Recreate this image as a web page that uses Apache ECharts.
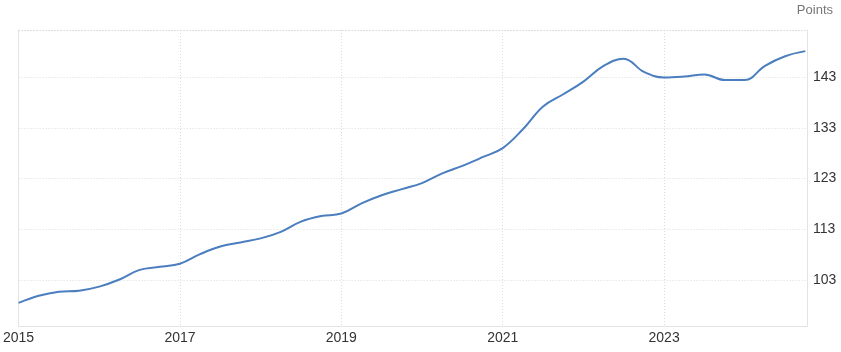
<!DOCTYPE html>
<html>
<head>
<meta charset="utf-8">
<script src="https://cdn.jsdelivr.net/npm/echarts@6/dist/echarts.min.js"></script>
<style>html,body{margin:0;padding:0;background:#fff;}#c{width:841px;height:352px;}</style>
</head>
<body>
<div id="c"></div>
<script>
const quarters = [
  2015.0, 2015.25, 2015.5, 2015.75,
  2016.0, 2016.25, 2016.5, 2016.75,
  2017.0, 2017.25, 2017.5, 2017.75,
  2018.0, 2018.25, 2018.5, 2018.75,
  2019.0, 2019.25, 2019.5, 2019.75,
  2020.0, 2020.25, 2020.5, 2020.75,
  2021.0, 2021.25, 2021.5, 2021.75,
  2022.0, 2022.25, 2022.5, 2022.75,
  2023.0, 2023.25, 2023.5, 2023.75,
  2024.0, 2024.25, 2024.5, 2024.75
];
const values = [
  98.5, 99.9, 100.7, 100.9,
  101.7, 103.1, 105.0, 105.6,
  106.2, 108.1, 109.6, 110.4,
  111.2, 112.5, 114.5, 115.6,
  116.1, 118.1, 119.7, 120.9,
  122.1, 124.0, 125.5, 127.2,
  129.0, 132.7, 137.2, 139.6,
  142.1, 145.2, 146.6, 144.0,
  142.9, 143.1, 143.5, 142.4,
  142.4, 145.2, 147.1, 148.1
];
const yTicks = [103, 113, 123, 133, 143];
const xTickLabels = ['2015', '2017', '2019', '2021', '2023'];
const unitLabel = 'Points';

const chart = echarts.init(document.getElementById('c'), null, {renderer: 'canvas'});
const dotted = {color: '#dcdcdc', type: [1, 2], width: 1};
chart.setOption({
  animation: false,
  title: {text: unitLabel, right: 8, top: 4, padding: 0, textStyle: {color: '#777', fontSize: 13, fontWeight: 'normal', fontFamily: 'Liberation Sans, Arial, sans-serif'}},
  grid: {left: 17, right: 34, top: 30, bottom: 26},
  xAxis: [{
    type: 'value', min: 2015, max: 2024.771, interval: 2,
    axisLine: {show: true, lineStyle: {color: '#e3e3e3'}},
    axisTick: {show: false},
    axisLabel: {color: '#333', fontSize: 14, margin: 5, fontFamily: 'Liberation Sans, Arial, sans-serif',
      formatter: v => { const s = String(Math.round(v)); return xTickLabels.includes(s) ? s : ''; }},
    splitLine: {show: true, lineStyle: dotted}
  }, {
    type: 'value', position: 'top', min: 2015, max: 2024.771,
    axisLine: {show: true, lineStyle: dotted},
    axisTick: {show: false}, axisLabel: {show: false}, splitLine: {show: false}
  }],
  yAxis: [{
    type: 'value', position: 'right', min: 93.94, max: 152.26,
    axisLine: {show: true, lineStyle: {color: '#e3e3e3'}},
    axisTick: {show: false, customValues: yTicks},
    axisLabel: {color: '#333', fontSize: 14, margin: 6, customValues: yTicks, fontFamily: 'Liberation Sans, Arial, sans-serif'},
    splitLine: {show: true, lineStyle: dotted}
  }, {
    type: 'value', position: 'left', min: 93.94, max: 152.26,
    axisLine: {show: true, lineStyle: {color: '#e3e3e3'}},
    axisTick: {show: false}, axisLabel: {show: false}, splitLine: {show: false}
  }],
  series: [{
    type: 'line',
    data: quarters.map((q, i) => [q, values[i]]),
    smooth: 0.4,
    symbol: 'none',
    lineStyle: {color: '#4a7ebf', width: 2},
    itemStyle: {color: '#4a7ebf'}
  }]
});
</script>
</body>
</html>
